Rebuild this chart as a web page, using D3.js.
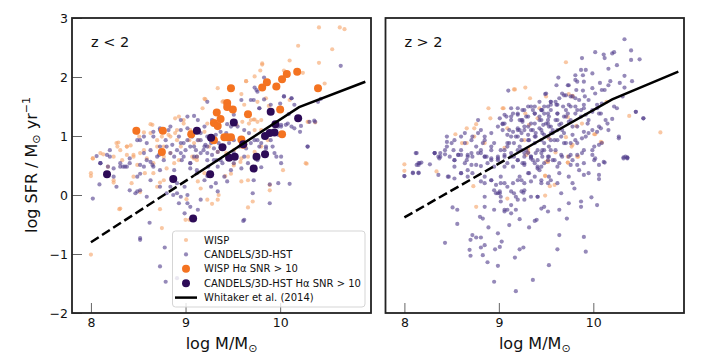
<!DOCTYPE html>
<html>
<head>
<meta charset="utf-8">
<script src="https://cdn.jsdelivr.net/npm/d3@7"></script>
<style>
  body { margin: 0; background: #fff; }
  svg { font-family: 'DejaVu Sans', sans-serif; }
</style>
</head>
<body>
<svg id="chart" width="720" height="360"></svg>
<script>
// [log M, log SFR]
const wispLo = [
  [10.41,2.84],[10.63,2.84],[10.68,2.81],[10.19,2.53],[10.55,2.47],[10.10,2.28],[10.41,2.24],[9.81,2.23],
  [9.79,2.11],[10.04,2.11],[10.24,2.07],[9.64,1.93],[9.73,2.01],[9.34,1.81],[9.59,1.71],[9.94,1.82],
  [9.85,1.64],[9.88,1.51],[10.10,1.61],[9.20,1.63],[9.40,1.59],[9.76,1.58],[10.47,1.89],[10.30,1.24],
  [10.37,1.23],[10.27,0.54],[9.72,1.28],[9.80,1.27],[9.60,1.24],[9.54,1.19],[9.18,1.47],[8.98,1.27],
  [8.89,1.30],[8.63,1.20],[8.56,1.06],[8.51,0.99],[8.42,0.84],[8.38,0.82],[8.29,0.89],[8.28,0.82],
  [8.02,0.62],[8.13,0.69],[8.24,0.65],[8.33,0.59],[8.45,0.68],[8.52,0.71],[8.59,0.62],[8.70,0.82],
  [8.75,0.99],[8.82,1.02],[8.89,1.05],[8.91,0.93],[8.95,0.82],[9.04,0.93],[9.09,0.88],[9.14,0.93],
  [9.20,1.07],[9.25,0.82],[9.34,0.73],[9.43,0.71],[9.51,0.76],[9.59,0.62],[9.66,0.65],[9.73,0.73],
  [9.80,0.82],[9.87,0.93],[9.23,1.21],[9.34,1.13],[8.77,0.65],[8.84,0.71],[8.66,0.54],[8.49,0.51],
  [9.07,0.65],[9.12,0.59],
  [8.00,-1.01],[8.00,0.37],[8.00,0.32],[8.18,0.48],[8.24,0.21],[8.30,-0.24],[8.38,0.68],[8.43,0.20],
  [8.52,0.05],[8.73,0.21],[8.73,-0.24],[8.75,-0.56],[8.66,0.37],[8.57,0.37],[8.80,0.45],[8.93,0.59],
  [9.00,-0.42],[9.04,-0.42],[9.09,0.62],[9.13,0.23],[9.16,0.11],[9.20,0.37],[9.28,-0.15],[9.42,0.32],
  [9.48,0.36],[9.51,0.53],[9.59,0.23],[9.66,0.25],[9.71,-0.11],[9.66,-0.21],[9.89,0.08],[9.89,0.17],
  [10.03,0.42],[10.28,0.53],[9.01,-0.07],[9.35,0.00],
  [9.81,2.21],[9.64,1.93],[10.29,1.24],[9.21,1.62],[9.39,1.58],[9.62,1.53],[9.69,1.27],[9.73,1.28],
  [9.76,1.24],[9.67,1.21],[9.80,1.10],[9.73,1.10],[9.76,0.65],[9.58,0.56],[9.51,0.50],
  [8.02,0.62],[8.10,0.71],[8.27,0.88],[8.31,0.76],[8.38,0.82],[8.45,0.65],[8.56,0.76],[8.63,1.05],
  [8.70,0.93],[8.77,0.82],[8.84,0.99],[8.91,1.10],[8.98,1.21],[9.05,1.10],[8.88,0.54],[8.77,0.25],
  [8.70,0.14],[8.31,-0.23],[8.24,0.25],[8.45,0.31],[9.23,-0.08],[9.34,-0.08],[9.12,0.65],[8.49,1.05],
  [8.65,1.19],[8.93,1.33]
];
const candelsLo = [
  [10.64,2.19],[10.43,1.63],[10.40,1.58],[10.37,1.24],[10.29,0.82],[10.21,1.07],[10.12,1.64],[10.04,1.67],
  [10.09,1.37],[10.00,1.55],[9.90,1.53],[9.83,1.62],[9.75,1.78],[9.72,1.61],[9.78,1.47],[9.59,1.61],
  [9.51,1.36],[9.44,1.20],[9.37,1.27],[9.28,1.27],[9.23,1.58],[9.09,1.34],[9.02,1.13],[8.95,1.10],
  [8.82,1.10],[8.73,1.13],[8.66,1.07],[8.56,0.99],[8.49,0.93],[8.20,0.76],[8.17,0.68],[8.10,0.54],
  [8.31,0.54],[8.38,0.48],[8.52,0.51],[8.63,0.56],[8.72,0.68],[8.80,0.82],[8.88,0.65],[8.95,0.71],
  [9.00,0.76],[9.05,0.82],[9.11,0.76],[9.16,0.71],[9.20,0.82],[9.27,0.88],[9.30,0.79],[9.35,0.88],
  [9.41,0.82],[9.46,0.88],[9.51,0.93],[9.57,0.82],[9.64,0.79],[9.69,0.88],[9.76,0.93],[9.80,0.88],
  [9.85,0.82],[9.90,0.93],[9.96,1.05],[9.98,1.16],[10.01,1.19],[10.08,1.21],[10.15,1.13],[9.94,0.71],
  [10.01,0.65],[9.76,0.59],[9.66,0.54],[9.51,0.54],[9.37,0.59],[9.23,0.59],[9.12,0.65],[9.05,0.54],
  [8.96,0.59],[9.16,1.05],[9.23,0.99],[9.13,0.93],[9.07,0.99],[8.98,0.88],[8.93,0.99],[8.73,0.82],
  [8.63,0.76],[8.56,0.71],[8.06,0.66],
  [8.02,-0.06],[8.09,0.18],[8.10,0.54],[8.20,0.65],[8.24,0.45],[8.31,0.48],[8.36,0.48],[8.52,0.36],
  [8.49,0.06],[8.47,0.03],[8.52,-0.76],[8.52,-0.73],[8.62,-0.47],[8.73,-1.21],[8.79,-1.47],[8.78,-0.89],
  [8.84,0.14],[8.87,0.00],[8.93,-0.14],[8.99,-0.31],[8.91,0.03],[8.91,-1.41],[8.99,0.14],[9.05,0.45],
  [9.12,0.37],[9.23,0.32],[9.27,0.14],[9.32,0.20],[9.34,0.06],[9.44,0.23],[9.48,0.42],[9.62,-0.42],
  [9.61,-0.44],[9.71,0.03],[9.72,0.25],[9.80,0.47],[9.89,0.18],[9.89,-0.14],[9.98,0.20],[10.10,0.19],
  [9.59,0.45],[8.88,0.42],[8.73,0.42],[8.65,0.51],[8.59,0.59],[8.41,0.62],[9.16,-0.08],[9.13,-0.25],
  [9.05,-0.20],[9.02,0.00],[9.24,0.48],[9.39,0.54],[9.33,0.59],
  [9.73,1.82],[9.83,1.99],[9.76,1.75],[9.69,1.61],[9.78,1.47],[10.04,1.67],[10.12,1.64],[10.15,1.53],
  [10.22,1.17],[10.29,0.82],[10.36,1.26],[10.31,1.24],[10.12,1.16],[10.06,1.19],[10.01,1.16],[9.98,1.02],
  [9.92,0.82],[9.85,0.79],[9.78,0.82],[9.73,0.93],[9.67,1.05],[9.62,1.10],[9.55,1.16],[9.48,1.16],
  [9.43,1.05],[9.37,1.07],[9.32,1.02],[9.27,0.93],[9.21,0.85],[9.19,0.76],[9.23,0.71],[9.34,0.73],
  [9.30,0.59],[9.51,0.71],[9.62,0.65],[9.96,0.65],[10.01,0.54],
  [8.10,0.54],[8.18,0.48],[8.24,0.31],[8.34,0.48],[8.41,0.54],[8.49,0.31],[8.56,0.48],[8.63,0.25],
  [8.66,0.48],[8.70,0.65],[8.77,0.59],[8.84,0.71],[8.91,0.76],[8.95,0.88],[9.02,0.93],[9.09,0.82],
  [9.16,0.93],[9.23,0.82],[8.98,0.65],[9.05,0.54],[9.12,0.42],[9.20,0.25],[8.91,0.20],[8.95,-0.03],
  [9.02,-0.14],[8.80,0.03],[8.73,0.14],[8.59,-0.03],[8.52,0.08],[8.41,0.08],[8.27,0.14],[8.59,0.88],
  [8.52,0.93],[8.66,0.99],[8.73,1.10],[8.84,1.16],[8.95,1.27],[9.02,1.33],[9.13,1.27],[9.20,1.16],
  [8.79,0.93],[8.86,0.85],[9.09,0.65],[9.28,0.68],[9.34,0.48],[9.41,0.31]
];
const wispSnrLo = [
  [8.48,1.09],[8.76,1.09],[8.75,0.73],[9.06,1.03],[9.30,1.22],[9.34,1.17],[9.33,1.40],[9.37,1.29],
  [9.44,1.56],[9.44,1.49],[9.50,1.45],[9.48,1.81],[9.30,0.93],[9.41,0.98],[9.44,0.98],[9.48,0.98],
  [9.59,0.94],[9.61,0.85],[9.66,1.37],[9.81,1.82],[9.86,1.91],[9.96,1.84],[10.02,1.96],[10.07,2.05],
  [10.18,2.09],[10.00,1.45],[10.02,1.03],[10.40,1.81]
];
const candelsSnrLo = [
  [8.17,0.35],[8.87,0.27],[9.26,0.35],[9.08,-0.40],[9.12,1.09],[9.27,0.97],[9.39,0.81],[9.46,0.63],
  [9.52,0.65],[9.51,1.23],[9.61,0.86],[9.75,0.65],[9.84,0.69],[9.72,0.45],[9.84,1.00],[9.89,1.05],
  [9.94,1.06],[9.95,1.20],[9.90,1.41],[10.19,1.30]
];
const wispHi = [
  [9.71,2.25],[9.28,1.82],[9.16,1.79],[9.33,1.64],[8.89,1.47],[9.05,1.47],[8.91,1.30],[8.66,1.13],
  [8.74,1.13],[8.76,1.20],[8.54,1.03],[8.61,0.88],[8.66,0.88],[8.74,0.99],[8.85,0.88],[9.09,1.13],
  [9.06,0.80],[9.31,0.73],[9.27,0.93],[9.41,1.30],[9.52,0.58],[9.71,0.98],[9.73,0.65],[9.78,0.85],
  [9.78,1.67],[10.02,1.03],[10.08,0.90],[10.14,1.58],[10.38,1.34],[10.71,1.06],[8.00,0.52],
  [8.00,0.41],[8.34,0.40],[8.73,0.15],[8.76,-0.20],[9.09,-0.06],[9.31,0.72],[9.52,0.56],[9.49,0.33],
  [9.49,-0.01],[9.54,0.15],[9.59,0.17],[9.73,0.55],[9.84,0.65],[9.60,0.72],
  [9.17,1.79],[9.04,1.47],[9.28,1.38],[9.43,1.47],[9.50,1.67],[9.74,1.71],[9.78,1.68],[9.73,1.32],
  [9.88,1.21],[9.82,1.17],[10.01,1.03],[10.09,0.89],[9.77,0.82],[9.83,0.65],[9.73,0.55],[9.53,0.96],
  [9.50,0.56],[9.32,1.19],[9.31,0.79],[9.29,0.68],[9.49,0.32]
];
const candelsHi = [
  [10.33,2.64],[10.40,2.45],[10.02,2.42],[10.11,2.38],[10.12,2.32],[10.20,2.40],[10.22,2.42],[9.88,2.32],
  [10.40,2.29],[10.49,2.30],[10.25,2.20],[10.16,2.14],[9.87,2.12],[9.89,2.03],[9.99,2.06],[9.81,2.03],
  [9.63,1.99],[9.83,1.92],[9.90,1.92],[10.07,1.90],[10.18,1.93],[10.33,2.02],[10.41,1.93],[10.28,1.90],
  [9.73,1.86],[9.82,1.78],[9.89,1.77],[9.99,1.81],[10.12,1.78],[9.91,1.67],[9.76,1.67],[9.69,1.69],
  [9.61,1.86],[9.49,1.71],[9.55,1.58],[9.61,1.53],[9.68,1.50],[9.76,1.50],[9.83,1.44],[9.90,1.47],
  [9.99,1.41],[10.04,1.47],[10.08,1.38],[10.25,1.47],[10.33,1.82],[10.45,1.41],[10.53,1.30],[10.20,1.29],
  [10.27,0.96],[10.32,0.64],[10.36,0.64],[10.09,0.88],[10.04,1.07],[9.95,1.27],[9.83,1.16],[9.76,1.27],
  [9.69,1.33],[9.62,1.38],[9.55,1.44],[9.48,1.38],[9.43,1.33],[9.38,1.38],[9.31,1.50],[9.25,1.44],
  [9.20,1.47],[9.38,1.50],[9.45,1.44],[9.52,1.27],[9.47,1.19],[9.55,1.16],[9.62,1.10],[9.69,1.05],
  [9.78,1.02],[9.88,0.96],[9.95,1.05],[10.01,0.82],[9.90,0.76],[9.83,0.68],[9.74,0.65],[9.64,0.54],
  [9.53,0.65],[9.48,0.76],[9.45,0.93],[9.39,1.05],[9.34,1.10],[9.27,1.16],[9.20,1.13],[9.15,1.07],
  [9.09,1.02],[9.04,1.10],[9.01,1.30],[9.04,1.20],[9.10,1.77],[9.20,1.36],[9.13,1.33],[9.25,1.24],
  [9.31,1.02],[9.24,0.93],[9.16,0.88],[9.09,0.82],[9.02,0.76],[8.92,0.82],[8.85,0.93],[8.81,1.10],
  [8.78,1.27],[8.72,0.99],[8.64,1.05],[8.60,0.99],[8.53,0.93],[8.50,0.88],[8.45,0.99],[8.45,0.82],
  [8.38,0.71],[8.32,0.71],[8.36,0.65],[8.48,0.65],[8.57,0.68],[8.67,0.65],[8.78,0.71],[8.85,0.65],
  [8.92,0.62],[8.99,0.59],[9.06,0.65],[9.13,0.71],[9.20,0.76],[9.27,0.71],[9.34,0.65],[9.41,0.59],
  [9.48,0.54],[9.20,0.59],[8.12,0.71],[8.15,0.51],[8.18,0.55],[8.27,0.52],[8.64,0.54],[8.71,0.51],
  [8.81,0.49],[8.88,0.54],[8.95,0.48],[9.06,0.48],[9.27,0.51],[9.41,0.48],[9.62,0.48],[9.76,0.51],
  [9.90,0.54],[10.01,0.59],[10.12,0.55],[9.55,0.93],[9.62,0.93],[9.69,0.88],[9.76,0.88],[9.83,0.88],
  [9.38,0.88],[9.48,1.02],[9.57,1.05],[9.66,1.21],[9.62,1.27],[9.73,1.38],[9.87,1.33],[9.94,1.21],
  [9.90,1.07],[10.08,1.13],[10.15,1.21],[9.81,1.64],[9.74,1.53],[9.64,1.64],
  [8.13,0.71],[8.32,0.71],[8.37,0.62],[8.43,0.69],[8.53,0.59],[8.60,0.68],[8.67,0.68],[8.72,0.65],
  [8.81,0.71],[8.85,0.65],[8.92,0.59],[8.99,0.62],[9.06,0.68],[9.13,0.65],[9.20,0.59],[9.27,0.65],
  [9.34,0.62],[9.45,0.71],[9.52,0.65],[9.59,0.59],[9.66,0.68],[9.76,0.68],[9.83,0.51],[9.90,0.34],
  [9.99,0.68],[10.02,0.62],[10.11,0.56],[10.06,0.34],[10.06,0.27],[10.32,0.62],[10.36,0.62],[8.13,0.51],
  [8.16,0.54],[8.09,0.37],[8.15,0.37],[8.00,0.32],[8.36,0.34],[8.46,0.31],[8.53,0.28],[8.60,0.37],
  [8.67,0.31],[8.72,0.37],[8.81,0.23],[8.85,0.20],[8.92,0.25],[8.97,0.17],[9.02,0.31],[9.01,0.06],
  [8.97,0.03],[8.99,0.03],[9.01,0.03],[9.06,0.20],[9.15,0.20],[9.20,0.25],[9.27,0.20],[9.34,0.23],
  [9.41,0.45],[9.45,0.20],[9.55,0.25],[9.62,0.20],[9.66,0.03],[9.74,-0.14],[9.78,0.20],[9.80,0.11],
  [9.87,-0.11],[9.87,-0.20],[9.98,-0.04],[10.04,-0.17],[8.85,-0.03],[9.13,0.06],[9.24,0.06],[9.26,0.04],
  [9.18,-0.03],[9.27,-0.08],[9.34,-0.03],[9.41,-0.03],[9.45,-0.23],[9.52,-0.28],[9.64,-0.25],[9.72,-0.40],
  [9.02,-0.11],[9.06,-0.28],[9.09,-0.25],[9.13,-0.17],[9.18,-0.25],[9.22,-0.41],[9.11,-0.51],[8.80,-0.37],
  [8.83,-0.40],[8.85,-0.20],[8.89,-0.55],[8.72,-0.68],[8.70,-0.76],[8.76,-0.72],[8.81,-0.72],[8.85,-0.85],
  [8.81,-0.89],[8.69,-0.93],[8.70,-1.03],[8.83,-1.02],[8.88,-1.14],[8.96,-0.92],[9.01,-0.88],[8.99,-0.65],
  [9.03,-0.79],[8.99,-1.20],[8.95,-1.47],[9.18,-1.63],[9.17,-1.06],[9.22,-0.92],[9.26,-0.89],[9.36,-1.44],
  [9.32,-0.55],[9.38,-0.44],[9.40,-0.42],[9.53,-1.19],[9.62,-0.92],[9.64,-0.68],[9.90,-0.71],[9.92,-0.96],
  [8.43,-0.81],[8.56,-0.49],[8.51,-0.21],[8.56,-0.25],[8.47,0.31],
  [9.50,1.21],[9.53,1.16],[9.57,1.10],[9.60,1.27],[9.64,1.19],[9.67,1.10],[9.71,1.33],[9.74,1.24],
  [9.78,1.16],[9.46,1.05],[9.43,1.13],[9.39,0.99],[9.36,1.10],[9.32,0.93],[9.52,0.99],[9.59,0.93],
  [9.66,0.99],[9.81,1.38],[9.87,1.44],[9.92,1.36],[9.99,1.44],[10.04,1.53],[10.09,1.55],[9.85,1.61],
  [9.78,1.67],[9.71,1.69],[9.62,1.53],[9.55,1.58],[9.46,1.44],[9.25,1.27],[9.22,1.10],[9.18,0.99],
  [9.11,0.88],[9.22,0.82],[9.29,0.76],[9.39,0.71],[9.46,0.76],[9.53,0.82],[9.60,0.76],[9.71,0.88],
  [9.81,0.93],[9.92,0.99],[9.99,1.10],[10.06,1.16],[10.13,1.27],[10.06,1.38],
  [8.15,0.54],[8.09,0.38],[8.15,0.38],[8.00,0.32],[8.32,0.71],[8.38,0.65],[8.43,0.76],[8.45,0.90],
  [8.52,0.76],[8.53,0.59],[8.57,0.68],[8.60,0.76],[8.64,0.88],[8.66,0.59],[8.71,0.71],[8.76,0.82],
  [8.81,0.76],[8.83,0.88],[8.87,0.65],[8.92,0.76],[8.95,0.88],[8.99,0.65],[9.06,0.76],[9.09,0.88],
  [9.13,0.99],[9.20,1.10],[9.24,1.27],[9.31,1.33],[9.38,1.38],[9.45,1.44],[9.52,1.50],
  [8.53,0.48],[8.60,0.37],[8.67,0.42],[8.76,0.51],[8.85,0.31],[8.92,0.25],[8.95,0.08],[9.02,0.20],
  [9.09,0.14],[9.16,0.03],[9.24,0.25],[9.31,0.37],[9.38,0.31],[9.45,0.25],[9.52,0.20],[9.27,0.08],
  [9.20,-0.08],[9.41,-0.03],[9.48,-0.20],[9.13,-0.31],[9.06,-0.25],[8.95,-0.25],[9.02,-0.03],
  [9.24,1.05],[9.31,0.93],[9.38,0.99],[9.45,1.10],[9.52,1.21],[9.55,1.05],[9.48,0.88],[9.41,0.76],
  [9.34,0.65],[9.27,0.54],[9.55,0.76],[9.52,0.59],[9.45,0.48],[9.38,0.54],[9.31,0.71],[9.24,0.76],
  [9.16,0.65],[9.09,0.54],[9.13,1.27],[9.06,1.21],[8.99,1.16],[8.92,1.05],[8.85,0.99],[8.78,1.05],
  [8.71,0.93],[9.45,1.27],[9.38,1.21],[9.31,1.16],[9.52,1.38],[9.55,1.53],[9.48,1.50],[9.34,1.50],
  [9.27,1.44],[9.20,1.38],[9.13,1.47],[9.06,1.36],
  [9.92,2.12],[9.81,1.95],[9.74,1.86],[9.67,1.72],[9.60,1.58],[9.50,1.72],[9.43,1.58],[9.36,1.44],
  [9.29,1.33],[9.22,1.27],[9.15,1.38],[9.08,1.33],[9.04,1.21],[9.11,1.10],[9.20,0.99],[9.27,1.10],
  [9.34,1.21],[9.43,1.27],[9.53,1.33],[9.62,1.38],[9.71,1.44],[9.81,1.50],[9.90,1.53],[9.95,1.61],
  [10.02,1.72],[10.09,1.78],[10.16,1.86],[10.22,1.50],[10.31,1.67],[10.45,1.41],[10.53,1.30],[10.27,0.99],
  [10.34,0.65],[10.36,0.63],[10.06,0.51],[9.95,0.37],[9.85,0.42],[9.74,0.31],[9.64,0.37],[9.53,0.31],
  [9.43,0.42],[9.32,0.37],[9.22,0.31],[9.15,0.48],[9.25,0.54],[9.36,0.59],[9.46,0.65],[9.57,0.59],
  [9.67,0.65],[9.78,0.59],[9.88,0.71],[9.99,0.76],[10.06,0.85],[10.16,1.10]
];
// Whitaker et al. (2014) relation, vertices
const whitakerLoDash = [[8.0,-0.80],[9.09,0.33]];
const whitakerLoSolid = [[9.09,0.33],[10.2,1.49],[10.9,1.92]];
const whitakerHiDash = [[8.0,-0.38],[9.15,0.67]];
const whitakerHiSolid = [[9.15,0.67],[10.2,1.62],[10.9,2.09]];

const xTicks = [8, 9, 10];
const yTicks = [-2, -1, 0, 1, 2, 3];
const legendItems = ['WISP', 'CANDELS/3D-HST', 'WISP H\u03b1 SNR > 10', 'CANDELS/3D-HST H\u03b1 SNR > 10', 'Whitaker et al. (2014)'];

const colWisp = '#f5a46a', colCand = '#54408e', colWispBig = '#f47321', colCandBig = '#2d0b57';
const opWisp = 0.62, opCand = 0.62;

const svg = d3.select('#chart');
const yTop = 18, yBot = 313;

const panels = [
  {x0: 72, x1: 371, tag: 'z < 2', wisp: wispLo, cand: candelsLo, wispBig: wispSnrLo, candBig: candelsSnrLo,
   dash: whitakerLoDash, solid: whitakerLoSolid, yLabels: true, legend: true},
  {x0: 385.5, x1: 684, tag: 'z > 2', wisp: wispHi, cand: candelsHi, wispBig: [], candBig: [],
   dash: whitakerHiDash, solid: whitakerHiSolid, yLabels: false, legend: false}
];

const y = d3.scaleLinear().domain([-2, 3]).range([yBot, yTop]);

panels.forEach((p, i) => {
  const x = d3.scaleLinear().domain([7.8, 10.96]).range([p.x0, p.x1]);
  const g = svg.append('g');
  const clipId = 'clip' + i;
  svg.append('clipPath').attr('id', clipId).append('rect')
    .attr('x', p.x0).attr('y', yTop).attr('width', p.x1 - p.x0).attr('height', yBot - yTop);
  const plot = g.append('g').attr('clip-path', `url(#${clipId})`);

  plot.append('g').selectAll('circle').data(p.wisp).enter().append('circle')
    .attr('cx', d => x(d[0])).attr('cy', d => y(d[1])).attr('r', 2.1)
    .attr('fill', colWisp).attr('fill-opacity', opWisp);
  plot.append('g').selectAll('circle').data(p.cand).enter().append('circle')
    .attr('cx', d => x(d[0])).attr('cy', d => y(d[1])).attr('r', 2.1)
    .attr('fill', colCand).attr('fill-opacity', opCand);
  plot.append('g').selectAll('circle').data(p.wispBig).enter().append('circle')
    .attr('cx', d => x(d[0])).attr('cy', d => y(d[1])).attr('r', 4)
    .attr('fill', colWispBig);
  plot.append('g').selectAll('circle').data(p.candBig).enter().append('circle')
    .attr('cx', d => x(d[0])).attr('cy', d => y(d[1])).attr('r', 4)
    .attr('fill', colCandBig);

  const line = d3.line().x(d => x(d[0])).y(d => y(d[1]));
  plot.append('path').attr('d', line(p.dash)).attr('fill', 'none')
    .attr('stroke', '#000').attr('stroke-width', 2.5).attr('stroke-dasharray', '9.25,4');
  plot.append('path').attr('d', line(p.solid)).attr('fill', 'none')
    .attr('stroke', '#000').attr('stroke-width', 2.5);

  // inward ticks
  const xAxis = d3.axisBottom(x).tickValues(xTicks).tickSizeInner(-10).tickSizeOuter(0).tickPadding(5)
    .tickFormat(d3.format('d'));
  const gx = g.append('g').attr('transform', `translate(0,${yBot})`).call(xAxis);
  gx.select('.domain').remove();
  gx.selectAll('line').attr('stroke', '#666');
  gx.selectAll('text').attr('font-size', 12.5).attr('fill', '#111')
    .attr('font-family', 'DejaVu Sans');

  if (p.yLabels) {
    const yAxis = d3.axisLeft(y).tickValues(yTicks).tickSizeInner(-10).tickSizeOuter(0).tickPadding(4)
      .tickFormat(d => d < 0 ? '\u2212' + Math.abs(d) : d);
    const gy = g.append('g').attr('transform', `translate(${p.x0},0)`).call(yAxis);
    gy.select('.domain').remove();
    gy.selectAll('line').attr('stroke', '#666');
    gy.selectAll('text').attr('font-size', 12.5).attr('fill', '#111')
      .attr('font-family', 'DejaVu Sans');
  }

  g.append('rect').attr('x', p.x0).attr('y', yTop).attr('width', p.x1 - p.x0).attr('height', yBot - yTop)
    .attr('fill', 'none').attr('stroke', '#222').attr('stroke-width', 1.8);

  g.append('text').attr('x', x(8)).attr('y', 47).attr('font-size', 14.5).attr('fill', '#111').text(p.tag);

  const xl = g.append('text').attr('x', (p.x0 + p.x1) / 2).attr('y', 349)
    .attr('text-anchor', 'middle').attr('font-size', 16).attr('fill', '#111');
  xl.append('tspan').text('log M/M');
  xl.append('tspan').attr('font-size', 11).attr('dy', 3).text('\u2299');

  if (p.legend) {
    const lg = g.append('g');
    lg.append('rect').attr('x', 172.5).attr('y', 231).attr('width', 192.5).attr('height', 76).attr('rx', 3)
      .attr('fill', '#fff').attr('fill-opacity', 0.8).attr('stroke', '#d5d5d5').attr('stroke-width', 1);
    legendItems.forEach((t, k) => {
      const cy = 240 + k * 14.4;
      if (k === 0) lg.append('circle').attr('cx', 186).attr('cy', cy).attr('r', 2.1).attr('fill', colWisp).attr('fill-opacity', opWisp);
      if (k === 1) lg.append('circle').attr('cx', 186).attr('cy', cy).attr('r', 2.1).attr('fill', colCand).attr('fill-opacity', opCand);
      if (k === 2) lg.append('circle').attr('cx', 186).attr('cy', cy).attr('r', 4).attr('fill', colWispBig);
      if (k === 3) lg.append('circle').attr('cx', 186).attr('cy', cy).attr('r', 4).attr('fill', colCandBig);
      if (k === 4) lg.append('line').attr('x1', 175).attr('x2', 197).attr('y1', cy).attr('y2', cy)
        .attr('stroke', '#000').attr('stroke-width', 2.5);
      lg.append('text').attr('x', 204).attr('y', cy + 3.5).attr('font-size', 10).attr('fill', '#111').text(t);
    });
  }
});

// y label
const yl = svg.append('text').attr('transform', 'translate(37,165) rotate(-90)')
  .attr('text-anchor', 'middle').attr('font-size', 16).attr('fill', '#111');
yl.append('tspan').text('log SFR / M');
yl.append('tspan').attr('font-size', 11).attr('dy', 3).text('\u2299');
yl.append('tspan').attr('dy', -3).text(' yr');
yl.append('tspan').attr('font-size', 11).attr('dy', -7).text('\u22121');
</script>
</body>
</html>
